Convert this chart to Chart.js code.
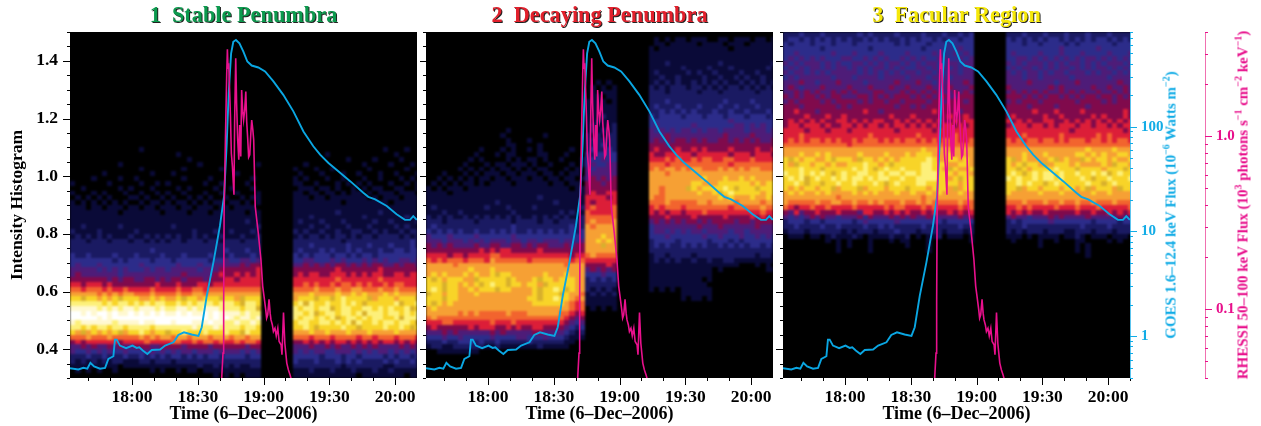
<!DOCTYPE html>
<html>
<head>
<meta charset="utf-8">
<title>Intensity histograms, 6 Dec 2006</title>
<script src="https://cdn.jsdelivr.net/npm/chart.js@4/dist/chart.umd.js"></script>
<style>
    body { margin: 0; background: #fff; width: 1261px; height: 426px; overflow: hidden; position: relative; }
    canvas { position: absolute; top: 0; }
    .panel-title {
        position: absolute; top: 2px; height: 30px; line-height: 30px; width: 347px; text-align: center;
        font: bold 22.3px "Liberation Serif", serif; white-space: pre; text-shadow: 1px 1px 0 #222;
    }
    .side-label {
        position: absolute; top: 205px; white-space: nowrap; font: bold 15px "Liberation Serif", serif;
        transform: translate(-50%, -50%) rotate(-90deg);
    }
    .side-label sup { font-size: 10px; line-height: 0; }
</style>
</head>
<body>
<canvas id="panel1" width="417" height="426" style="left:0"></canvas>
<canvas id="panel2" width="353" height="426" style="left:420px"></canvas>
<canvas id="panel3" width="485" height="426" style="left:776px"></canvas>
<div class="panel-title" style="left:70px;color:#0c9a4e">1  Stable Penumbra</div>
<div class="panel-title" style="left:426px;color:#e2202c">2  Decaying Penumbra</div>
<div class="panel-title" style="left:783px;color:#f6e80a">3  Facular Region</div>
<div class="side-label" style="left:1171px;color:#12ace6">GOES 1.6–12.4 keV Flux (10<sup>−6</sup> Watts m<sup>−2</sup>)</div>
<div class="side-label" style="left:1243px;color:#e8108c">RHESSI 50–100 keV Flux (10<sup>3</sup> photons s<sup>−1</sup> cm<sup>−2</sup> keV<sup>−1</sup>)</div>
<script>
// time in minutes of the day
const goesTime = [1051.7,1055.5,1057.8,1059.6,1061,1062.7,1065.4,1067.7,1069.2,1071.5,1072.2,1073,1074.5,1077.3,1080.2,1082.1,1083.3,1084.9,1087,1089,1092.8,1095.1,1098.9,1101.1,1103.7,1107.2,1110.3,1111.8,1114.1,1117.1,1120.1,1122,1123.2,1124.1,1125.2,1126.2,1127.4,1129,1130.8,1132.6,1134.6,1137.6,1140.7,1144.5,1149,1153.6,1158.2,1162.7,1165.8,1169.6,1174.1,1179.5,1185.5,1187.8,1190.9,1196.2,1200.7,1204.5,1206.8,1208.3,1209.9];
const goesFlux = [.496,.482,.5,.49,.558,.515,.49,.5,.609,.645,.93,.93,.815,.769,.815,.775,.786,.731,.679,.741,.747,.815,.877,1.03,1.09,1.04,1.01,1.22,2.44,5.05,11.3,21.8,70,209,501,646,671,625,520,418,383,367,336,270,201,140,90,65,54,45,37.6,30.2,23.4,21.4,20.2,17.5,14.6,12.9,12.9,14,12.9];
const rhessiTime = [1120.9,1121.5,1121.8,1122,1122.6,1123.2,1123.5,1123.8,1124.1,1124.6,1124.9,1125.3,1125.8,1126.2,1126.5,1126.8,1127.3,1127.7,1128.2,1128.7,1129.1,1129.6,1130,1130.5,1130.9,1131.4,1131.9,1132.3,1132.8,1133.2,1133.7,1134.2,1134.6,1135.1,1135.5,1136.2,1137.6,1138.8,1139.6,1140.2,1141,1141.4,1141.9,1142.5,1143,1143.4,1144,1144.5,1145.2,1145.8,1146.5,1147.1,1148,1148.4,1149.1,1149.7,1150.6,1151.3,1152.1,1152.7];
const rhessiFlux = [.04,.0557,.113,.359,.952,2.31,3.18,2.47,2.64,1.7,1.3,.798,.668,.535,.458,1.19,2.82,1.55,.952,.73,1.16,.763,1.85,1.39,1.24,1.42,1.81,1.22,.952,.756,.78,1.04,1.24,1.09,.952,.392,.275,.193,.136,.119,.0991,.0887,.0927,.114,.0948,.0867,.0813,.0743,.0776,.0701,.0776,.065,.0622,.0545,.0957,.0635,.0488,.0447,.0417,.039];

const timeTicks = [1060,1070,1080,1090,1100,1110,1120,1130,1140,1150,1160,1170,1180,1190,1200,1210];
const timeLabels = ["18:00","18:30","19:00","19:30","20:00"];
const intensityTicks = [.3,.35,.4,.45,.5,.55,.6,.65,.7,.75,.8,.85,.9,.95,1,1.05,1.1,1.15,1.2,1.25,1.3,1.35,1.4,1.45,1.5];
const intensityLabels = [.4,.6,.8,1,1.2,1.4];
const goesTicks = [.4,.5,.6,.7,.8,.9,1,2,3,4,5,6,7,8,9,10,20,30,40,50,60,70,80,90,100,200,300,400,500,600,700,800];
const goesLabels = [1,10,100];
const rhessiTicks = [.04,.05,.06,.07,.08,.09,.1,.2,.3,.4,.5,.6,.7,.8,.9,1,2,3,4];
const rhessiLabels = [.1,1];

// histogram colour levels, 0 (empty) to c (fullest), d is the olive speckle inside the yellow
const levelColors = ["#000000","#0a0a38","#1a1a62","#2c2c8a","#4e1c78","#800a4c","#dc1e38","#f2642e","#f6a034","#f8d428","#fdf07a","#fff8d0","#ffffff","#d8b02c"];
const firstCellTime = 1051.7, cellMinutes = 2.42, topIntensity = 1.5, cellIntensity = 1 / 60;

// one string per intensity row, top to bottom; gaps only for reading
const stableRows = [
"","","","","","","","","","","","","","","","","","","","","","","","",
"000000 000000 010000 000000 000000 000000 000000 000000 000000 000001 000100",
"000000 000000 000000 001000 000000 000000 000000 000000 100000 000000 010000",
"000000 000000 000000 000010 000000 000000 000000 000000 000010 000100 001000",
"000000 000100 000000 000000 100000 000001 000000 001000 000000 010000 100010",
"000000 000000 010000 000100 000010 000000 000000 100010 010000 001000 000100",
"000000 100000 000100 010000 000000 010000 000000 010001 000100 100010 010001",
"000010 000100 100000 000100 001000 000010 000000 101000 100100 010010 001010",
"100000 010000 010010 100000 010010 000100 000000 110010 001010 101000 100101",
"001000 000101 000100 001010 000100 100010 000000 011101 101001 010110 011001",
"100010 100010 010010 100100 010010 010001 000000 110110 110101 101011 101110",
"010101 010001 101001 010010 101001 001011 000000 111011 011111 110101 110111",
"101010 101010 010110 101101 010110 110101 000000 111111 111011 111111 011111",
"111011 011101 101101 110110 111011 011110 000000 111111 111111 111111 111111",
"111111 111011 111110 111101 110111 111011 000000 111111 112111 111121 111111",
"111111 111111 111111 111111 111111 111111 000000 111211 111111 121111 111211",
"111111 111111 111111 111111 111111 111211 000000 121112 111211 111211 211112",
"112111 111211 111111 121111 111111 111112 000000 111211 211121 112111 121211",
"211112 111111 211111 111112 111211 211121 000000 212112 112112 211212 112122",
"121212 121112 112121 212112 121121 112112 000000 121221 212212 122122 221212",
"222122 212221 221212 122122 212212 221222 000000 222222 222122 222222 222232",
"222222 222222 222222 222222 222222 222222 000000 222322 222232 223222 322232",
"222222 222222 222322 222222 222223 222322 000000 232223 232232 322232 233233",
"322322 223222 322223 222322 223222 322232 000000 323233 323323 233233 333333",
"333333 332323 333233 323333 332334 334434 000000 334433 343433 343434 334434",
"343334 333333 343333 334333 433444 445455 000000 445454 545545 454554 454554",
"444443 434343 334344 344444 344455 555556 000000 555555 556555 555565 555555",
"454444 444344 444444 444544 444565 565656 000000 565665 566656 565665 566566",
"555555 545455 445545 455455 545556 656666 000000 666666 667666 666676 666666",
"665666 565555 555565 556555 665666 666666 000000 667676 676776 767667 677666",
"776777 676676 666766 667667 767777 777777 000000 777787 778778 877787 787777",
"888887 878788 777877 778778 878888 888888 000000 888988 889889 898889 898888",
"99d998 989d99 988989 889d99 8999d9 98d999 000000 8999d9 9d9a99 99d899 98999d",
"aaaaaa 9a9aa9 a9a9aa 99a9a9 aaa9aa a9daa9 000000 9ada99 a99a9a 9d9999 9ad99a",
"bbbbba bababb abbbab aabbab abbbaa aa9aad 000000 a9aa9a ad9aa9 9aa9a9 a99ad9",
"ccbcbc cbcbbc bcbcbc bbcbcb bcbcbb bbabaa 000000 aa9ad9 aa9aa9 adaaa9 aa9a9a",
"cccccb cbcccc cccccc cccccc ccbcbc babbab 000000 a9aa9a 9ad9aa 9a9aa9 9adaaa",
"babbbb bbabbb bcbbcc cbcccb bbcbba abaaba 000000 9aa99a a9a9ad a99a9a a9aa9d",
"aa9a9a a9aa9a aaa9aa aaaaab aaabaa aa9aa9 000000 99a9d9 999a99 d9999a 99a9d9",
"98d898 989d89 9a9899 d99a99 9a999a 99da99 000000 888988 988898 889888 898888",
"777877 787777 787878 878878 887888 788788 000000 777677 767777 677677 767776",
"565666 666566 667666 677667 677676 676776 000000 556565 656656 565656 656565",
"445454 454544 555445 555455 554555 555455 000000 444544 545445 454544 445454",
"433434 343343 334434 343443 444344 443434 000000 434344 334443 434344 343434",
"222322 322232 232323 233232 323323 333233 000000 333332 333233 233332 323323",
"212121 212211 122122 212222 222222 222222 000000 322232 223232 322223 232232",
"111111 111011 111111 111111 211212 121122 000000 222222 222122 222221 122222",
"010101 001000 000101 001011 011111 111111 000000 111211 121112 111211 211111",
"000000 000000 000000 000000 000101 010111 000000 111111 111111 011111 111011"
];

const decayingRows = [
"",
"000000 000000 000000 000000 000000 000000 000000 010101 101110 011011 101101",
"000000 000000 000000 000000 000000 000000 000000 011011 111011 110111 011111",
"000000 000000 000000 000000 000000 000000 000000 101111 111111 111011 111111",
"000000 000000 000000 000000 000000 000000 000000 111111 111111 111111 111111",
"000000 000000 000000 000000 000000 000000 000000 111111 111111 111111 111111",
"000000 000000 000000 000000 000000 000000 000000 111211 111111 121111 111112",
"000000 000000 000000 000000 000000 000000 000000 111111 211112 111211 111121",
"000000 000000 000000 000000 000000 000000 000000 121111 121211 211112 112111",
"000000 000000 000000 000000 000000 000000 000000 112112 111121 121121 211211",
"000000 000000 000000 000000 000000 001010 000000 121212 112121 212112 121212",
"000000 000000 000000 000000 000000 010101 000000 212122 212212 121221 212121",
"000000 000000 000000 000000 000000 010111 000000 222122 222122 212222 221222",
"000000 000000 000000 000000 000000 011011 000000 222222 222222 222222 222222",
"000000 000000 000000 000000 000000 111101 000000 222322 222222 223222 232222",
"000000 000000 000000 000000 000000 111111 000000 232223 222322 232232 223222",
"000000 000000 000000 000000 000000 111111 000000 223232 323222 322322 322232",
"000000 000000 000000 000000 000000 111211 000000 323333 233323 332333 233323",
"000000 000000 000000 000000 000000 112111 000000 333333 333333 333433 333333",
"000000 000000 000000 000000 000000 121112 000000 343333 334333 333344 343433",
"000000 000000 000100 000000 000000 121212 000000 434343 443434 434444 344434",
"000000 000000 001000 000010 000000 212122 000000 444544 444444 445444 454444",
"000000 000000 000100 010000 000000 222222 000000 454545 545454 455454 545445",
"000000 000000 000110 000100 000000 222322 000000 555455 555555 555555 555555",
"000000 000010 001010 010100 000100 232232 000000 565556 556565 555655 556556",
"000000 000100 010110 000110 001000 323333 000000 655666 665666 666566 656665",
"000000 001010 000101 011010 010001 333433 000000 666767 667677 667766 676666",
"000000 010001 011011 101001 000101 343344 000000 777677 777777 777677 777777",
"000000 101010 101101 010110 001010 434444 000000 787887 878877 787878 788777",
"000100 010101 110110 111011 010110 444444 000000 888788 888888 888888 888888",
"001010 101011 011011 101101 101101 454545 000000 888888 888898 889889 898888",
"010101 011010 111101 111110 110110 555455 000000 888888 889988 899999 989899",
"101011 101111 111111 111111 111011 555555 000000 887888 8d9899 99a9d9 99d999",
"111101 111111 111111 111111 111111 565566 000000 887888 888988 9d9a99 999899",
"111111 111111 111111 111211 111111 666656 000000 877888 888888 898988 898898",
"111111 111111 121111 111111 211111 656666 000000 777877 777887 888878 888788",
"121111 111112 111211 112111 111112 676667 000000 676777 677777 777677 777877",
"111211 211111 111121 111111 121211 766667 000000 656566 566676 666666 666766",
"212121 121212 121212 112121 212112 777777 000000 555655 556555 556555 565656",
"222122 222122 222212 222122 122222 787778 000000 454545 455454 555545 545555",
"232222 222222 222232 222222 222322 878888 000000 344444 444544 454444 445444",
"323232 322322 323232 232323 232323 888888 000000 344343 434434 444344 344444",
"433343 333433 333343 333333 333333 888988 000000 333433 333343 343334 334343",
"444344 434343 444344 344344 434434 889898 000000 233332 333332 333232 333333",
"545454 444544 554455 454554 445455 888d88 000000 232322 323232 232323 233232",
"555555 555565 656655 555655 555555 888888 000000 222222 222222 222222 222222",
"666656 656666 776666 666666 666566 787777 000000 122122 221222 222222 221221",
"767677 767776 877777 767777 777677 666666 000000 121212 112112 112211 111111",
"888887 888888 888888 888888 887888 555565 000000 111111 111111 111110 001010",
"888888 889888 988888 888888 888888 454545 000000 111111 111111 010000 000011",
"898988 898988 9d9988 888898 889888 333433 000000 111111 111111 000000 000000",
"9d9899 988d99 999d98 889d99 899988 232323 000000 111111 111101 000000 000000",
"999d99 8989d9 a99d99 8998d9 999988 222222 000000 111111 111110 000000 000000",
"9a9d99 889899 9d9988 889d99 a9d988 212121 000000 101010 111111 000000 000000",
"d99899 888988 888888 889d99 9d9887 121212 000000 000000 111111 000000 000000",
"999d99 888888 888888 899d99 a99878 111111 000000 000000 101101 000000 000000",
"9d9898 888888 888888 889999 998767 111111 000000 000000 000000 000000 000000",
"898888 888888 888888 888888 888767 010101 000000 000000 000000 000000 000000",
"888888 787877 777877 788888 877656 000000 000000 000000 000000 000000 000000",
"787777 777777 777777 777777 776545 000000 000000 000000 000000 000000 000000",
"666776 666666 766676 666666 665434 000000 000000 000000 000000 000000 000000",
"565555 556566 655656 556655 554323 000000 000000 000000 000000 000000 000000",
"444545 444444 545444 445544 443212 000000 000000 000000 000000 000000 000000",
"333433 433333 433334 433343 332111 000000 000000 000000 000000 000000 000000",
"222322 333232 232222 232222 221100 000000 000000 000000 000000 000000 000000",
"122112 222221 121111 111211 111000 000000 000000 000000 000000 000000 000000",
"001111 111100 000000 000000 000000 000000 000000 000000 000000 000000 000000"
];

const facularRows = [
"222322 232222 223232 222322 223222 322323 000000 222322 232223 222322 232222",
"233232 323232 322323 232232 323323 233233 000000 323232 323323 232323 323232",
"323332 333233 323333 333232 333233 333333 000000 333233 233332 323333 332333",
"333333 323333 333323 333333 332333 333433 000000 333333 333343 333334 333333",
"334333 333433 343333 433334 333343 334343 000000 343333 433343 334333 343334",
"343434 343334 433434 343343 434334 433434 000000 334434 343434 343443 434343",
"434344 434343 344343 434434 343443 344344 000000 434344 434343 443434 344434",
"343434 434344 343434 434343 344343 434344 000000 343443 434344 343434 434343",
"434434 343444 443434 343434 434434 344344 000000 434344 343443 444343 443434",
"343444 444344 434444 344443 444344 434444 000000 444344 344444 344444 434444",
"444544 344454 444344 444544 454434 444454 000000 444454 444344 454444 444544",
"454344 454444 544454 445445 444544 454445 000000 544444 445454 444454 454454",
"445454 544545 454445 544454 545454 445454 000000 454545 454454 545445 445454",
"545455 454554 445545 454555 454545 544555 000000 555454 545545 454554 554545",
"454555 545455 554545 545545 555455 455545 000000 454555 455555 545555 454555",
"555455 555545 455555 555455 454555 555555 000000 555545 555455 555455 555555",
"556555 455555 555655 455555 555565 555455 000000 555556 555655 556555 555565",
"555565 556556 555555 556555 655555 565565 000000 565555 565565 555565 655565",
"565656 565566 565656 655656 565656 556566 000000 656565 566556 565656 565656",
"566566 656556 656566 565665 656565 665656 000000 566656 656566 656656 656566",
"666656 665666 566666 666566 666656 666666 000000 666666 666666 566666 666656",
"666766 666666 666676 666666 676666 667666 000000 666766 666676 666667 676666",
"676767 767676 676777 676767 767676 777667 000000 767677 677676 777677 676776",
"777777 777777 677777 777777 777777 777777 000000 777777 777777 777777 777777",
"888888 888888 888888 888888 889888 888888 000000 888888 888888 888988 889888",
"888988 989888 889888 898889 899988 898888 000000 888988 898888 899898 988998",
"9d9899 889d99 98d998 989899 999a98 899898 000000 9d8988 889d89 88d989 989889",
"98d998 998988 999a99 89d999 99aa99 988998 000000 989d99 8d8999 898888 98d998",
"999a99 9d9999 9a9a9d 9a99a9 99aa99 8d9889 000000 99d989 999a99 9d9999 8999d9",
"a99a9a 9a9d9a 99aa99 a9aa9a a9aaa9 998998 000000 9a9d9a 9aa9a9 9a99a9 ad9a99",
"9a9ad9 a99a9a 9aa9a9 aa99a9 9aaaa9 989d99 000000 a9a99a 9aa9a9 99a9d9 9a999a",
"99a9d9 9d99a9 9a999a 9d9a99 9aa999 999899 000000 99a9a9 9d9a99 999a99 d9a999",
"989899 899d89 99d899 98999d 999899 98d899 000000 99d899 899989 989d89 998d99",
"898988 989888 898989 888988 988989 888988 000000 988888 988898 888898 898888",
"888888 888878 888888 888888 887888 888888 000000 888888 888888 888888 888888",
"877777 877887 787787 877787 787877 777877 000000 777877 787787 787787 778777",
"765667 667666 676666 676776 667676 666767 000000 667676 666766 676667 666667",
"546455 655565 554665 565656 556565 565656 000000 656565 565555 565565 565656",
"434345 454434 445354 445454 544544 444545 000000 454434 445454 444544 444544",
"233323 323333 323433 333433 333343 233333 000000 232333 334333 333323 333233",
"223222 232232 222322 323222 223222 222322 000000 222322 222222 223222 232222",
"122212 222221 212221 222322 212222 122212 000000 212122 212221 122212 221222",
"011101 101211 121011 112112 010112 011101 000000 111010 111101 121011 101110",
"000000 001010 100010 001011 000100 000001 000000 010000 100100 011000 010100",
"000000 000010 100010 000001 000100 000000 000000 000000 100000 010100 000000",
"000000 000010 000010 000000 000100 000000 000000 000000 000000 010100 000000",
"000000 000000 000000 000000 000000 000000 000000 000000 000000 000100 000000"
];

function hhmm(minutes) {
    const h = Math.floor(minutes / 60);
    const m = minutes % 60;
    return h + ":" + String(m).padStart(2, "0");
}

function setTicks(scale, values, labelled) {
    scale.ticks = values.map(v => ({ value: v, major: labelled.includes(v) }));
}

// heat map: cells are placed through the chart's own x and y scales
const heatmapPlugin = {
    id: "heatmap",
    beforeDatasetsDraw(chart, args, opts) {
        const { ctx, chartArea: a, scales: { x, y } } = chart;
        const off = document.createElement("canvas");
        off.width = chart.width;
        off.height = chart.height;
        const o = off.getContext("2d");
        o.fillStyle = "#000";
        o.fillRect(a.left, a.top, a.width, a.height);
        opts.rows.forEach((row, r) => {
            const cells = row.replace(/ /g, "");
            const y0 = Math.round(y.getPixelForValue(topIntensity - r * cellIntensity));
            const y1 = Math.round(y.getPixelForValue(topIntensity - (r + 1) * cellIntensity));
            for (let c = 0; c < cells.length; c++) {
                const level = parseInt(cells[c], 16);
                if (!level) continue;
                const x0 = Math.round(x.getPixelForValue(firstCellTime + c * cellMinutes));
                const x1 = Math.round(x.getPixelForValue(firstCellTime + (c + 1) * cellMinutes));
                o.fillStyle = levelColors[level];
                o.fillRect(x0, y0, x1 - x0, y1 - y0);
            }
        });
        ctx.save();
        ctx.beginPath();
        ctx.rect(a.left, a.top, a.width, a.height);
        ctx.clip();
        ctx.fillStyle = "#000";
        ctx.fillRect(a.left, a.top, a.width, a.height);
        ctx.filter = "blur(0.9px)";
        ctx.drawImage(off, 0, 0);
        ctx.restore();
    }
};

// two tick lengths, which the built-in grid cannot do
const tickMarksPlugin = {
    id: "tickMarks",
    afterDraw(chart) {
        const ctx = chart.ctx;
        Object.values(chart.scales).forEach(scale => {
            if (!scale.options.display) return;
            ctx.save();
            ctx.strokeStyle = scale.options.ticks.color;
            ctx.lineWidth = 1;
            scale.ticks.forEach(t => {
                const len = t.major ? 7 : 3;
                const p = Math.round(scale.getPixelForValue(t.value)) + 0.5;
                ctx.beginPath();
                if (scale.position === "bottom") {
                    ctx.moveTo(p, scale.top);
                    ctx.lineTo(p, scale.top + len);
                } else if (scale.position === "left") {
                    ctx.moveTo(scale.right, p);
                    ctx.lineTo(scale.right - len, p);
                } else {
                    ctx.moveTo(scale.left, p);
                    ctx.lineTo(scale.left + len, p);
                }
                ctx.stroke();
            });
            ctx.restore();
        });
    }
};

function makePanel(id, rows, leftWidth, showLeftLabels, showRightAxes) {
    const tickFont = { family: "Liberation Serif", weight: "bold", size: 17.5 };
    const sideFont = { family: "Liberation Serif", weight: "bold", size: 15 };
    const titleFont = { family: "Liberation Serif", weight: "bold", size: 18 };
    new Chart(document.getElementById(id), {
        type: "line",
        plugins: [heatmapPlugin, tickMarksPlugin],
        data: {
            datasets: [
                {
                    data: rhessiTime.map((t, i) => ({ x: t, y: rhessiFlux[i] })),
                    yAxisID: "rhessi", borderColor: "#e8108c", borderWidth: 1.6, pointRadius: 0, tension: 0
                },
                {
                    data: goesTime.map((t, i) => ({ x: t, y: goesFlux[i] })),
                    yAxisID: "goes", borderColor: "#0aa6e2", borderWidth: 1.9, pointRadius: 0, tension: 0
                }
            ]
        },
        options: {
            responsive: false,
            animation: false,
            layout: { autoPadding: false, padding: { top: 32, right: 0, left: 0, bottom: 0 } },
            plugins: {
                legend: { display: false },
                tooltip: { enabled: false },
                heatmap: { rows: rows }
            },
            scales: {
                x: {
                    type: "linear", min: 1051.7, max: 1210,
                    // the tick padding would otherwise be taken off the plot width
                    afterFit: s => { s.height = 48; s.paddingLeft = 0; s.paddingRight = 0; },
                    afterBuildTicks: s => setTicks(s, timeTicks, timeLabels.map(l => Number(l.slice(0, 2)) * 60 + Number(l.slice(3)))),
                    grid: { display: false, drawTicks: false },
                    border: { display: false },
                    ticks: {
                        font: tickFont, color: "#000", padding: 9, autoSkip: false, maxRotation: 0,
                        callback: v => timeLabels.includes(hhmm(v)) ? hhmm(v) : ""
                    },
                    title: {
                        display: true, text: "Time (6–Dec–2006)", color: "#000",
                        font: titleFont, padding: { top: 0, bottom: 1 }
                    }
                },
                y: {
                    type: "linear", position: "left", min: 0.3, max: 1.5,
                    afterFit: s => { s.width = leftWidth; },
                    afterBuildTicks: s => setTicks(s, intensityTicks, intensityLabels),
                    grid: { display: false, drawTicks: false },
                    border: { display: false },
                    ticks: {
                        font: tickFont, color: "#000", padding: 12, autoSkip: false,
                        display: showLeftLabels,
                        callback: v => intensityLabels.includes(v) ? v.toFixed(1) : ""
                    },
                    title: {
                        display: showLeftLabels, text: "Intensity Histogram", color: "#000",
                        font: { family: "Liberation Serif", weight: "bold", size: 17.5 }, padding: { top: 7, bottom: 0 }
                    }
                },
                goes: {
                    type: "logarithmic", position: "right", min: 0.4, max: 800, display: showRightAxes,
                    afterFit: s => { s.width = showRightAxes ? 75 : 0; },
                    afterBuildTicks: s => setTicks(s, goesTicks, goesLabels),
                    grid: { display: false, drawTicks: false },
                    border: { display: true, color: "#5cc4ee", width: 1 },
                    ticks: {
                        font: sideFont, color: "#12ace6", padding: 11, autoSkip: false,
                        callback: v => goesLabels.includes(v) ? String(v) : ""
                    }
                },
                rhessi: {
                    type: "logarithmic", position: "right", min: 0.04, max: 4, display: showRightAxes,
                    afterFit: s => { s.width = showRightAxes ? 56 : 0; },
                    afterBuildTicks: s => setTicks(s, rhessiTicks, rhessiLabels),
                    grid: { display: false, drawTicks: false },
                    border: { display: true, color: "#f070b0", width: 1 },
                    ticks: {
                        font: sideFont, color: "#e8108c", padding: 11, autoSkip: false,
                        callback: v => rhessiLabels.includes(v) ? v.toFixed(1) : ""
                    }
                }
            }
        }
    });
}

makePanel("panel1", stableRows, 70, true, false);
makePanel("panel2", decayingRows, 6, false, false);
makePanel("panel3", facularRows, 7, false, true);
</script>
</body>
</html>
